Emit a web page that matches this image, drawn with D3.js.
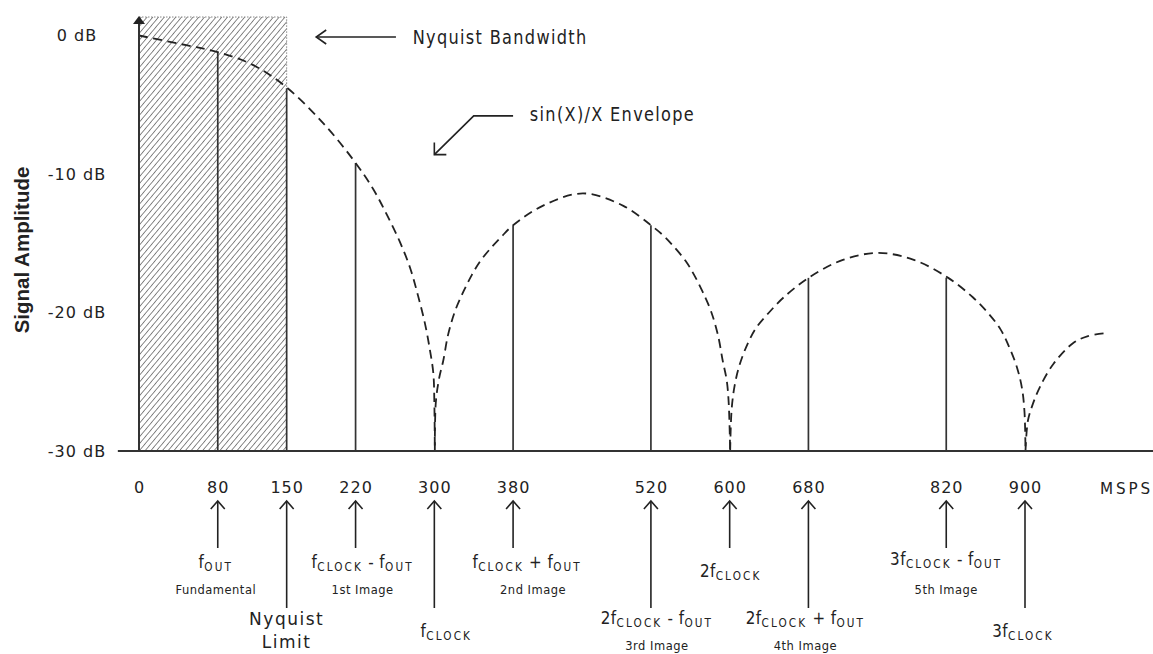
<!DOCTYPE html>
<html><head><meta charset="utf-8">
<script src="https://cdn.jsdelivr.net/npm/d3@7"></script>
<style>
body{margin:0;background:#fff}
svg text{font-family:"DejaVu Sans",sans-serif;fill:#222}
</style></head><body>
<svg id="c" width="1153" height="654"></svg>
<script>
// ---- data ----
const tickFreqs = [0, 80, 150, 220, 300, 380, 520, 600, 680, 820, 900];
const dbTicks = [0, -10, -20, -30];
const dbTickLabels = ["0 dB", "-10 dB", "-20 dB", "-30 dB"];
const spikeFreqs = [80, 150, 220, 380, 520, 680, 820];
const spikeDb = [-1.2, -3.8, -9.2, -13.7, -13.7, -17.5, -17.5];
const nyquistBand = [0, 150];
const lobe1 = [[0,0],[48,-0.7],[80,-1.2],[115,-2.1],[150,-3.75],[188,-6.4],[220,-9.2],[238,-11.1],[251.5,-12.9],[265,-14.9],[275.5,-16.8],[283.5,-18.8],[290.5,-20.8],[295.5,-22.7],[299,-24.4],[300,-26.5],[300.5,-30]];
const lobe2 = [[300.5,-30],[301.5,-26.5],[305,-24.7],[309,-23.5],[314,-21.6],[321,-19.9],[329.5,-18.5],[338,-17.3],[346.5,-16.3],[358,-15.3],[368.5,-14.5],[380,-13.7],[410,-12.3],[451,-11.4],[492,-12.3],[520,-13.7],[533.5,-14.5],[544,-15.3],[555.5,-16.3],[564,-17.3],[572.5,-18.5],[581,-19.9],[588,-21.6],[593,-23.5],[597,-24.9],[599,-26.5],[600.5,-30]];
const lobe3 = [[600.5,-30],[602,-27],[605,-25.3],[610,-23.8],[618,-22.3],[627,-21.1],[640,-20.0],[655,-18.9],[680,-17.5],[715,-16.2],[751,-15.7],[787,-16.2],[822,-17.5],[847,-18.9],[862,-20.0],[875,-21.2],[884,-22.5],[892,-24.0],[897,-25.5],[899.5,-27.2],[900.5,-30]];
const lobe4 = [[900.5,-30],[903,-27.8],[908,-26.6],[915,-25.4],[929,-23.7],[949,-22.2],[964,-21.7],[980,-21.5]];
const shortArrowFreqs = [80, 220, 380, 600, 820];
const longArrowFreqs = [150, 300, 520, 680, 900];
// label content: [text, isSubscript]
const freqLabels = [
  {f:80,  parts:[["f",0],["OUT",1]], note:"Fundamental"},
  {f:150, lines:["Nyquist","Limit"]},
  {f:220, parts:[["f",0],["CLOCK",1],[" - f",0],["OUT",1]], note:"1st Image"},
  {f:300, parts:[["f",0],["CLOCK",1]]},
  {f:380, parts:[["f",0],["CLOCK",1],[" + f",0],["OUT",1]], note:"2nd Image"},
  {f:520, parts:[["2f",0],["CLOCK",1],[" - f",0],["OUT",1]], note:"3rd Image"},
  {f:600, parts:[["2f",0],["CLOCK",1]]},
  {f:680, parts:[["2f",0],["CLOCK",1],[" + f",0],["OUT",1]], note:"4th Image"},
  {f:820, parts:[["3f",0],["CLOCK",1],[" - f",0],["OUT",1]], note:"5th Image"},
  {f:900, parts:[["3f",0],["CLOCK",1]]}
];
const yTitle = "Signal Amplitude";
const xUnit = "MSPS";
const bandText = "Nyquist Bandwidth";
const envText = "sin(X)/X Envelope";

// ---- layout ----
const svg = d3.select("#c");
const x = d3.scaleLinear().domain([0, 900]).range([139, 1025]);
const y = d3.scaleLinear().domain([-30, 0]).range([451, 35.5]);
const ink = "#222";
const topDb = y.invert(17);

function txt(px, py, str, size, ls, sx, anchor){
  return svg.append("text").attr("transform",`translate(${px},${py}) scale(${sx},1)`)
    .attr("text-anchor",anchor||"start").style("font-size",size+"px").style("letter-spacing",ls+"px").text(str);
}

// hatch pattern
const defs = svg.append("defs");
const pat = defs.append("pattern").attr("id","hatch").attr("patternUnits","userSpaceOnUse")
  .attr("width",4.4).attr("height",4.4).attr("patternTransform","rotate(40)");
pat.append("line").attr("x1",0).attr("y1",0).attr("x2",0).attr("y2",4.4)
  .attr("stroke","#3a3a3a").attr("stroke-width",1.2);
svg.append("rect").attr("x",x(nyquistBand[0])).attr("y",y(topDb))
  .attr("width",x(nyquistBand[1])-x(nyquistBand[0])).attr("height",y(-30)-y(topDb))
  .attr("fill","url(#hatch)");
svg.append("path").attr("d",`M${x(0)},${y(topDb)}H${x(150)}V${y(-3.75)}`)
  .attr("fill","none").attr("stroke","#888").attr("stroke-width",1).attr("stroke-dasharray","1.5,1.5");

// spikes
svg.selectAll(".spike").data(spikeFreqs).join("line").attr("class","spike")
  .attr("x1",d=>x(d)).attr("x2",d=>x(d)).attr("y1",y(-30)).attr("y2",(d,i)=>y(spikeDb[i]))
  .attr("stroke","#333").attr("stroke-width",1.7);

// envelope
const line = d3.line().x(d=>x(d[0])).y(d=>y(d[1])).curve(d3.curveCatmullRom.alpha(0.5));
svg.selectAll(".env").data([lobe1,lobe2,lobe3,lobe4]).join("path").attr("class","env")
  .attr("d",line).attr("fill","none").attr("stroke",ink).attr("stroke-width",1.8)
  .attr("stroke-dasharray","9,5.5");

// axes lines
svg.append("line").attr("x1",x(-21.5)).attr("x2",x(1115)).attr("y1",y(-30)).attr("y2",y(-30))
  .attr("stroke","#333").attr("stroke-width",2);
svg.append("path").attr("d",`M${x(1115)-2},${y(-30)-6}L${x(1121)},${y(-30)}L${x(1115)-2},${y(-30)+6}Z`).attr("fill",ink);
svg.append("line").attr("x1",x(0)).attr("x2",x(0)).attr("y1",y(-30)).attr("y2",22)
  .attr("stroke","#333").attr("stroke-width",2);
svg.append("path").attr("d",`M${x(0)-6},24L${x(0)},16L${x(0)+6},24Z`).attr("fill",ink);

// x tick labels via axis
const xa = svg.append("g").attr("transform",`translate(0,${y(-30)})`)
  .call(d3.axisBottom(x).tickValues(tickFreqs).tickSize(0).tickPadding(31).tickFormat(d3.format("d")));
xa.select(".domain").remove();
xa.selectAll("text").style("font-size","16px").style("letter-spacing","1px").attr("fill",ink);
txt(1100, 494, xUnit, 16, 3, 0.95, "start");

// y tick labels via axis
const ya = svg.append("g").attr("transform",`translate(${x(0)},0)`)
  .call(d3.axisLeft(y).tickValues(dbTicks).tickSize(0).tickPadding(62).tickFormat((d,i)=>dbTickLabels[i]));
ya.select(".domain").remove();
ya.selectAll("text").attr("text-anchor","middle").style("font-size","16px").style("letter-spacing","1px").attr("fill",ink);

svg.append("text").attr("transform",`translate(29,250) rotate(-90)`).attr("text-anchor","middle")
  .style("font-family","'Liberation Sans',Arial,sans-serif").style("font-weight","bold").style("font-size","20.5px")
  .text(yTitle);

// up arrows
function upArrow(f, yEnd){
  const g = svg.append("g").attr("stroke",ink).attr("stroke-width",1.6).attr("fill","none");
  g.append("line").attr("x1",x(f)).attr("x2",x(f)).attr("y1",501).attr("y2",yEnd);
  g.append("path").attr("d",`M${x(f)-7},509L${x(f)},501L${x(f)+7},509`);
}
shortArrowFreqs.forEach(f=>upArrow(f,548));
longArrowFreqs.forEach(f=>upArrow(f,608));

// labels
const labelLayout = {
  80:{b:568,dx:-2,n:26}, 150:{b:625,dx:0}, 220:{b:568,dx:7,n:26}, 300:{b:637,dx:12},
  380:{b:568,dx:14,n:26,ndx:6}, 520:{b:624,dx:6,n:26}, 600:{b:577,dx:1}, 680:{b:624,dx:-3,n:26},
  820:{b:565,dx:0,n:29}, 900:{b:637,dx:-2}
};
freqLabels.forEach(L=>{
  const lay = labelLayout[L.f];
  const cx = x(L.f)+lay.dx;
  if (L.lines){
    L.lines.forEach((t,i)=>txt(cx, lay.b+i*23, t, 17, 1.5, 1, "middle"));
    return;
  }
  const t = svg.append("text").attr("transform",`translate(${cx},${lay.b}) scale(0.84,1)`)
    .attr("text-anchor","middle").style("font-size","18px");
  let prevSub = false;
  L.parts.forEach(([s,sub])=>{
    const ts = t.append("tspan").text(s);
    if (sub){ ts.style("font-size","12.5px").style("letter-spacing","2.5px").attr("dy", prevSub?0:3); }
    else { ts.style("letter-spacing","0.5px").attr("dy", prevSub?-3:0); }
    prevSub = !!sub;
  });
  if (L.note){
    txt(cx+(lay.ndx||0), lay.b+lay.n, L.note, 11.5, 0.5, 1, "middle");
  }
});

// top annotations
const ag = svg.append("g").attr("stroke",ink).attr("stroke-width",1.6).attr("fill","none");
const by = y(0)+1.5;
ag.append("line").attr("x1",x(261)).attr("x2",x(180)).attr("y1",by).attr("y2",by);
ag.append("path").attr("d",`M${x(180)+10},${by-7}L${x(180)},${by}L${x(180)+10},${by+7}`);
txt(x(278), y(0)+8.5, bandText, 19, 1.55, 0.85);

ag.append("path").attr("d",`M${x(380)},${y(-5.8)}H${x(340)}L${x(300)},${y(-8.6)}`);
ag.append("path").attr("d",`M${x(300)},${y(-8.6)-12}V${y(-8.6)}H${x(300)+12}`);
txt(x(397), y(-5.8)+5, envText, 19, 1.55, 0.85);
</script>
</body></html>
